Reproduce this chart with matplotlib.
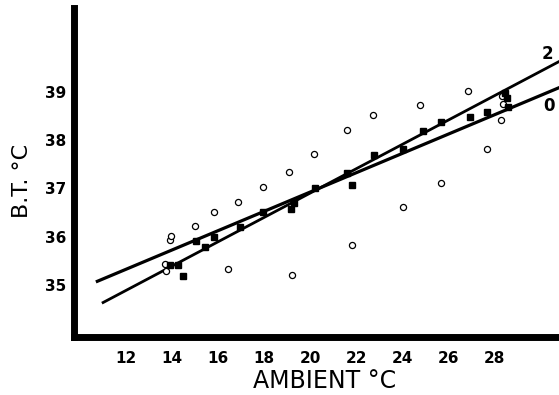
import numpy as np
import matplotlib
matplotlib.use("Agg")
import matplotlib.pyplot as plt

# open circles
circ_x = [13.70, 13.74, 13.92, 13.96, 15.00, 15.82, 16.43, 16.86, 17.95, 19.07, 19.20, 20.16,
          21.59, 21.81, 22.72, 24.02, 24.75, 25.66, 26.83, 27.66, 28.26, 28.31, 28.35]
circ_y = [35.43, 35.29, 35.93, 36.01, 36.22, 36.51, 35.33, 36.72, 37.03, 37.34, 35.21, 37.71,
          38.21, 35.83, 38.52, 36.61, 38.73, 37.11, 39.02, 37.82, 38.42, 38.91, 38.75]

# filled squares
sq_x = [13.92, 14.26, 14.48, 15.04, 15.43, 15.82, 16.95, 17.95, 19.16, 19.29, 20.20, 21.59,
        21.81, 22.76, 24.02, 24.89, 25.67, 26.93, 27.66, 28.44, 28.53, 28.57]
sq_y = [35.41, 35.41, 35.19, 35.91, 35.79, 35.99, 36.20, 36.51, 36.57, 36.70, 37.01, 37.32,
        37.07, 37.69, 37.82, 38.19, 38.37, 38.48, 38.58, 38.98, 38.87, 38.69]

# regression lines: label, slope, intercept, starting x
fit_labels = ["0", "2"]
fit_slope = [0.2002, 0.2523]
fit_icept = [32.918, 31.855]
fit_x0 = [10.70, 10.96]

xticks = [12, 14, 16, 18, 20, 22, 24, 26, 28]
yticks = [35, 36, 37, 38, 39]

fig = plt.figure(figsize=(5.59, 3.95), dpi=100)
ax = fig.add_axes([73.5 / 559, 58 / 395, (559 - 73.5) / 559, 329 / 395])
ax.set_xlim(9.73, 30.78)
ax.set_ylim(33.92, 40.73)

x_end = 32.0
for slope, icept, x0, lw in zip(fit_slope, fit_icept, fit_x0, [2.3, 2.0]):
    xs = np.array([x0, x_end])
    ax.plot(xs, slope * xs + icept, color="black", lw=lw, solid_capstyle="butt", zorder=2)

ax.plot(circ_x, circ_y, "o", ms=4.4, mfc="white", mec="black", mew=0.9, zorder=3)
ax.plot(sq_x, sq_y, "s", ms=3.8, mfc="black", mec="black", zorder=3)

# line labels at the right edge
ax.text(30.26, 39.78, fit_labels[1], fontsize=12, fontweight="bold", ha="center", va="center")
ax.text(30.35, 38.71, fit_labels[0], fontsize=12, fontweight="bold", ha="center", va="center")

for side in ["top", "right"]:
    ax.spines[side].set_visible(False)
for side in ["left", "bottom"]:
    ax.spines[side].set_linewidth(5)
ax.spines["bottom"].set_capstyle("projecting")

ax.set_xticks(xticks)
ax.set_yticks(yticks)
ax.tick_params(axis="x", length=0, pad=10, labelsize=11)
ax.tick_params(axis="y", length=0, pad=5, labelsize=11)
for lab in ax.get_xticklabels() + ax.get_yticklabels():
    lab.set_fontweight("bold")

fig.text(325 / 559, 1 - 381 / 395, "AMBIENT °C", fontsize=17, ha="center", va="center")
fig.text(22 / 559, 1 - 181 / 395, "B.T. °C", fontsize=16, ha="center", va="center", rotation=90)

fig.savefig("out.png", dpi=100)
